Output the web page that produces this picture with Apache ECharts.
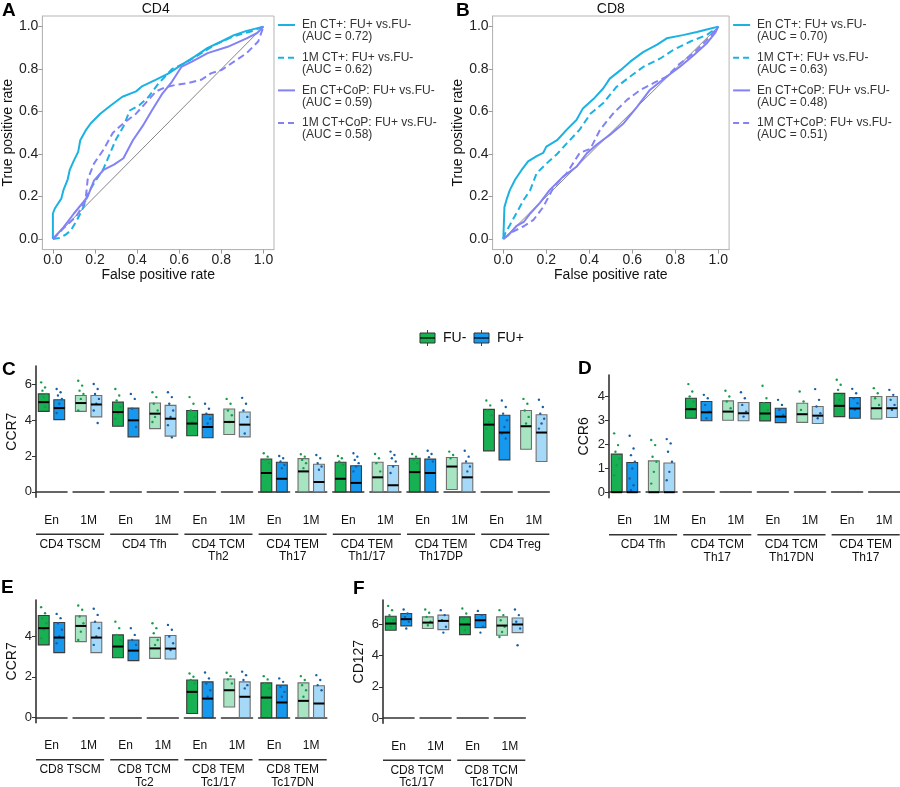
<!DOCTYPE html>
<html>
<head>
<meta charset="utf-8">
<script src="https://cdn.jsdelivr.net/npm/echarts@6/dist/echarts.min.js"></script>
<style>
html,body{margin:0;padding:0;background:#fff;}
#chart{width:900px;height:787px;}
</style>
</head>
<body>
<div id="chart"></div>
<script>
// ---- ROC curves, points are [false positive rate, true positive rate] ----
var rocA_enCT = [[0,0],[0,0.12],[0.01,0.145],[0.02,0.16],[0.04,0.19],[0.05,0.23],[0.07,0.28],[0.08,0.325],[0.1,0.37],[0.12,0.41],[0.13,0.465],[0.155,0.51],[0.18,0.545],[0.225,0.59],[0.27,0.625],[0.33,0.67],[0.395,0.695],[0.425,0.72],[0.49,0.75],[0.55,0.78],[0.61,0.82],[0.675,0.86],[0.735,0.9],[0.8,0.93],[0.86,0.96],[0.92,0.98],[1,1]];
var rocA_1mCT = [[0,0],[0.03,0.005],[0.06,0.02],[0.085,0.04],[0.115,0.09],[0.145,0.15],[0.17,0.22],[0.2,0.27],[0.24,0.33],[0.27,0.4],[0.3,0.47],[0.335,0.53],[0.365,0.605],[0.41,0.63],[0.455,0.67],[0.5,0.73],[0.565,0.8],[0.63,0.83],[0.705,0.875],[0.77,0.915],[0.86,0.955],[0.94,0.977],[1,1]];
var rocA_enCoP = [[0,0],[0.05,0.055],[0.1,0.12],[0.145,0.175],[0.165,0.2],[0.195,0.275],[0.24,0.325],[0.29,0.35],[0.335,0.38],[0.38,0.465],[0.425,0.53],[0.47,0.605],[0.52,0.685],[0.565,0.74],[0.61,0.81],[0.66,0.835],[0.735,0.875],[0.83,0.905],[0.92,0.945],[0.97,0.97],[1,1]];
var rocA_1mCoP = [[0,0],[0.05,0.05],[0.11,0.105],[0.155,0.18],[0.165,0.28],[0.195,0.355],[0.24,0.42],[0.285,0.5],[0.335,0.545],[0.395,0.59],[0.44,0.64],[0.49,0.695],[0.535,0.715],[0.58,0.725],[0.645,0.735],[0.705,0.75],[0.75,0.78],[0.8,0.795],[0.86,0.835],[0.92,0.875],[0.975,0.93],[1,1]];

var rocB_enCT = [[0,0],[0.005,0.15],[0.015,0.185],[0.03,0.23],[0.055,0.28],[0.085,0.325],[0.115,0.365],[0.155,0.39],[0.185,0.405],[0.2,0.435],[0.25,0.465],[0.295,0.515],[0.34,0.56],[0.37,0.615],[0.42,0.66],[0.465,0.71],[0.495,0.755],[0.545,0.795],[0.59,0.835],[0.65,0.88],[0.715,0.915],[0.76,0.945],[0.835,0.96],[0.9,0.975],[0.96,0.99],[1,1]];
var rocB_1mCT = [[0,0],[0.01,0.03],[0.03,0.065],[0.06,0.12],[0.095,0.185],[0.125,0.23],[0.155,0.31],[0.2,0.355],[0.25,0.4],[0.295,0.45],[0.355,0.515],[0.405,0.59],[0.465,0.64],[0.525,0.715],[0.59,0.765],[0.65,0.81],[0.73,0.85],[0.79,0.89],[0.87,0.93],[0.945,0.96],[1,1]];
var rocB_enCoP = [[0,0],[0.03,0.025],[0.06,0.06],[0.095,0.08],[0.125,0.12],[0.17,0.17],[0.215,0.23],[0.28,0.295],[0.34,0.34],[0.39,0.405],[0.435,0.445],[0.495,0.49],[0.56,0.545],[0.62,0.62],[0.68,0.7],[0.76,0.765],[0.82,0.81],[0.885,0.865],[0.945,0.92],[0.985,0.97],[1,1]];
var rocB_1mCoP = [[0,0],[0.045,0.035],[0.095,0.06],[0.14,0.09],[0.185,0.15],[0.235,0.245],[0.295,0.31],[0.355,0.405],[0.405,0.425],[0.45,0.515],[0.51,0.59],[0.575,0.655],[0.635,0.7],[0.7,0.735],[0.76,0.765],[0.82,0.825],[0.885,0.875],[0.945,0.935],[1,1]];

var rocNamesA = ['En CT+: FU+ vs.FU-\n(AUC = 0.72)', '1M CT+: FU+ vs.FU-\n(AUC = 0.62)', 'En CT+CoP: FU+ vs.FU-\n(AUC = 0.59)', '1M CT+CoP: FU+ vs.FU-\n(AUC = 0.58)'];
var rocNamesB = ['En CT+: FU+ vs.FU-\n(AUC = 0.70)', '1M CT+: FU+ vs.FU-\n(AUC = 0.63)', 'En CT+CoP: FU+ vs.FU-\n(AUC = 0.48)', '1M CT+CoP: FU+ vs.FU-\n(AUC = 0.51)'];
var rocTicks = [0, 0.2, 0.4, 0.6, 0.8, 1.0];

// ---- box panels: one entry per facet (group x time), [FU-, FU+], each [low, median, high] ----
var times = ['En', '1M'];
var groupsC = ['CD4 TSCM', 'CD4 Tfh', 'CD4 TCM\nTh2', 'CD4 TEM\nTh17', 'CD4 TEM\nTh1/17', 'CD4 TEM\nTh17DP', 'CD4 Treg'];
var boxesC = [
  [[4.48,4.99,5.45],[4.02,4.66,5.12]], [[4.48,4.94,5.36],[4.17,4.86,5.36]],
  [[3.65,4.44,4.99],[3.06,3.98,4.66]], [[3.52,4.35,4.94],[3.1,4.07,4.81]],
  [[3.12,3.8,4.53],[3.01,3.61,4.31]], [[3.19,3.89,4.61],[3.06,3.74,4.44]],
  [[0,1.05,1.83],[0,0.73,1.65]], [[0,1.14,1.85],[0,0.55,1.54]],
  [[0,0.73,1.65],[0,0.5,1.45]], [[0,0.81,1.65],[0,0.37,1.47]],
  [[0,1.1,1.87],[0,1.05,1.82]], [[0.13,1.41,1.91],[0,0.81,1.6]],
  [[2.28,3.74,4.59],[1.78,3.3,4.26]], [[2.37,3.65,4.53],[1.69,3.3,4.29]]
];
var dotsC = [
  [[6.09,5.81,5.63,5.45,5.27,4.99,4.72],[5.72,5.54,5.36,5.17,4.9,4.39]],
  [[6.18,5.91,5.63,5.45,5.17,4.53],[6.0,5.72,5.45,5.17,4.9,4.53,3.83]],
  [[5.72,5.36,5.08,4.72,4.35,4.07],[5.45,5.17,4.62,3.61]],
  [[5.54,5.27,4.9,4.53,4.17,3.89],[5.54,5.27,4.9,4.53,4.17,3.71,3.03]],
  [[5.27,4.9,4.53,4.17,3.89],[4.9,4.62,4.35,4.07,3.8]],
  [[5.17,4.9,4.53,4.26,3.89],[5.23,4.9,4.53,4.17,3.25]],
  [[2.15,1.96,1.78,1.6],[2.0,1.87,1.69,1.5,1.32]],
  [[2.09,1.96,1.78,1.6,1.32],[2.05,1.87,1.6,1.41,1.23]],
  [[2.0,1.87,1.69,1.5],[2.15,1.96,1.78,1.6,1.41,1.14]],
  [[2.11,1.87,1.6,1.14],[2.24,2.05,1.87,1.69,1.41,1.05]],
  [[2.11,1.96,1.78,1.6],[2.29,2.11,1.93,1.69]],
  [[2.24,2.05,1.87],[2.29,1.96,1.69,1.41,1.14]],
  [[5.08,4.81,4.53,4.26,3.89,3.52],[5.08,4.72,4.35,3.98,3.61,3.25,2.97]],
  [[5.17,4.9,4.53,4.17,3.8],[5.12,4.72,4.35,4.07,3.8,3.52]]
];

var groupsD = ['CD4 Tfh', 'CD4 TCM\nTh17', 'CD4 TCM\nTh17DN', 'CD4 TEM\nTh17'];
var boxesD = [
  [[0,0,1.59],[0,0,1.24]], [[0,0,1.31],[0,0,1.22]],
  [[3.09,3.47,3.93],[2.99,3.34,3.79]], [[3.01,3.37,3.82],[2.99,3.3,3.75]],
  [[2.98,3.29,3.75],[2.91,3.16,3.51]], [[2.92,3.26,3.72],[2.87,3.2,3.58]],
  [[3.16,3.61,4.13],[3.09,3.5,3.96]], [[3.06,3.51,4.0],[3.12,3.51,4.0]]
];
var dotsD = [
  [[2.46,1.97,1.69,1.41,1.13,0.71],[2.36,1.83,1.55,1.27,0.99,0.57,0.29,0.08]],
  [[2.18,1.97,1.48,1.27,0.85,0.36],[2.22,2.04,1.69,1.27,0.85,0.5]],
  [[4.52,4.21,4.0,3.79,3.51],[4.07,3.93,3.65,3.37,3.09]],
  [[4.24,4.0,3.79,3.51],[4.18,3.93,3.65,3.37,3.16]],
  [[4.45,3.93,3.72,3.44],[3.86,3.65,3.44,3.23]],
  [[4.21,3.79,3.44],[4.31,3.86,3.58,3.3,3.09]],
  [[4.7,4.49,4.28,4.07,3.86,3.65],[4.32,4.14,3.93,3.72,3.44]],
  [[4.35,4.14,3.93,3.65],[4.28,4.07,3.86,3.65,3.44]]
];

var groupsE = ['CD8 TSCM', 'CD8 TCM\nTc2', 'CD8 TEM\nTc1/17', 'CD8 TEM\nTc17DN'];
var boxesE = [
  [[3.56,4.38,5.0],[3.18,3.92,4.66]], [[3.72,4.49,4.98],[3.18,3.92,4.67]],
  [[2.93,3.48,4.05],[2.79,3.28,3.8]], [[2.9,3.39,3.93],[2.87,3.38,4.02]],
  [[0.2,1.26,1.84],[0,0.93,1.75]], [[0.52,1.34,1.89],[0,1.02,1.75]],
  [[0,0.98,1.7],[0,0.74,1.59]], [[0,0.82,1.7],[0,0.69,1.56]]
];
var dotsE = [
  [[5.41,5.11,4.87,4.62,4.3,3.89],[5.08,4.87,4.62,4.3,3.97,3.64]],
  [[5.49,5.28,4.95,4.62,4.21,3.8],[5.33,5.03,4.7,4.38,3.97,3.56]],
  [[4.7,4.38,4.05,3.8],[4.38,4.05,3.8,3.56]],
  [[4.62,4.38,4.13,3.8,3.56],[4.54,4.3,3.97,3.64,3.31]],
  [[2.16,2.0,1.84,1.67],[2.21,1.92,1.67,1.34,1.02]],
  [[2.2,2.03,1.87,1.67],[2.25,2.08,1.84,1.59,1.43]],
  [[2.03,1.87,1.67,1.43],[1.92,1.75,1.51,1.26,1.02]],
  [[2.03,1.84,1.59,1.34,1.02],[2.08,1.84,1.59,1.34]]
];

var groupsF = ['CD8 TCM\nTc1/17', 'CD8 TCM\nTc17DN'];
var boxesF = [
  [[5.63,6.06,6.53],[5.91,6.34,6.7]], [[5.74,6.12,6.49],[5.67,6.23,6.6]],
  [[5.35,6.0,6.49],[5.8,6.27,6.64]], [[5.31,5.93,6.49],[5.48,6.0,6.42]]
];
var dotsF = [
  [[7.19,6.92,6.6,6.27,5.85],[6.96,6.7,6.49,6.17,5.74]],
  [[6.96,6.75,6.49,6.17,5.95],[6.92,6.6,6.27,5.85,5.48]],
  [[7.02,6.7,6.38,6.06,5.63],[6.87,6.6,6.27,5.85,5.48]],
  [[6.92,6.6,6.27,5.85,5.52,5.2],[6.96,6.6,6.17,5.74,4.67]]
];

// ---- styles ----
var FONT = '"Liberation Sans", Arial, sans-serif';
var CYAN = '#1bb2e3', PURPLE = '#8282f6';
var FILL_EN = ['#17b052', '#1598ee'];
var FILL_1M = ['#a6e4c2', '#a5d9f7'];
var DOT = ['#1a9b4b', '#1a5fa6'];
var PITCH = 37.1, FW = 31;

const chart = echarts.init(document.getElementById('chart'));
var grids = [], xAxes = [], yAxes = [], series = [], graphics = [];

function addText(x, y, text, size, opts) {
  opts = opts || {};
  graphics.push({
    type: 'text', x: x, y: y, silent: true,
    style: {
      text: text, fill: opts.color || '#111',
      font: (opts.bold ? 'bold ' : '') + size + 'px ' + FONT,
      textAlign: opts.align || 'left', textVerticalAlign: opts.valign || 'top',
      align: opts.align || 'left', verticalAlign: opts.valign || 'top',
      lineHeight: opts.lineHeight || size
    }
  });
}
function addLine(x1, y1, x2, y2, color, width, dash) {
  graphics.push({type: 'line', silent: true, shape: {x1: x1, y1: y1, x2: x2, y2: y2},
    style: {stroke: color, lineWidth: width, lineDash: dash || null}});
}

// ---- ROC panels ----
function addRoc(left, title, names, curves) {
  var g = grids.length;
  var top = 16, w = 236.5, h = 233.6;
  grids.push({left: left, top: top, width: w, height: h, show: true, borderColor: '#b5b5b5', borderWidth: 1});
  xAxes.push({
    gridIndex: g, type: 'value', min: -0.05, max: 1.05,
    axisLine: {show: true, onZero: false, lineStyle: {color: '#b5b5b5'}},
    axisTick: {customValues: rocTicks, length: 4, lineStyle: {color: '#999'}},
    axisLabel: {customValues: rocTicks, formatter: function (v) { return v.toFixed(1); }, fontSize: 14, color: '#222', margin: 4},
    splitLine: {show: false},
    name: 'False positive rate', nameLocation: 'middle', nameGap: 19,
    nameTextStyle: {fontSize: 14, color: '#111'}
  });
  yAxes.push({
    gridIndex: g, type: 'value', min: -0.05, max: 1.05,
    axisLine: {show: true, onZero: false, lineStyle: {color: '#b5b5b5'}},
    axisTick: {customValues: rocTicks, length: 4, lineStyle: {color: '#999'}},
    axisLabel: {customValues: rocTicks, formatter: function (v) { return v.toFixed(1); }, fontSize: 14, color: '#222', margin: 4},
    splitLine: {show: false},
    name: 'True positive rate', nameLocation: 'middle', nameGap: 26,
    nameTextStyle: {fontSize: 14, color: '#111'}
  });
  series.push({type: 'line', xAxisIndex: g, yAxisIndex: g, data: [[0, 0], [1, 1]], symbol: 'none',
    silent: true, lineStyle: {color: '#333', width: 0.6}});
  var styles = [[CYAN, 'solid'], [CYAN, [7, 4]], [PURPLE, 'solid'], [PURPLE, [7, 4]]];
  curves.forEach(function (c, i) {
    series.push({type: 'line', name: names[i], xAxisIndex: g, yAxisIndex: g, data: c, symbol: 'none',
      lineStyle: {color: styles[i][0], width: 2, type: styles[i][1]}});
    var ly = 25 + i * 32.7;
    addLine(left + w + 4, ly, left + w + 21, ly, styles[i][0], 2, styles[i][1] === 'solid' ? null : [6, 4]);
    addText(left + w + 28, ly - 6, names[i], 12, {color: '#333', lineHeight: 12});
  });
  addText(left + w / 2, 2, title, 14, {align: 'center'});
}
addRoc(37.5, 'CD4', rocNamesA, [rocA_enCT, rocA_1mCT, rocA_enCoP, rocA_1mCoP]);
addRoc(492.6, 'CD8', rocNamesB, [rocB_enCT, rocB_1mCT, rocB_enCoP, rocB_1mCoP]);

// ---- box panels ----
function boxRenderer(boxes, dots, light) {
  return function (params, api) {
    var i = params.dataIndex;
    var b = boxes[i];
    var pMed = api.coord([i, b[1]]);
    var yLow = api.coord([i, b[0]])[1], yHigh = api.coord([i, b[2]])[1];
    var bw = api.size([1, 0])[0] * 0.7;
    var cx = pMed[0];
    var kids = [{
      type: 'rect', shape: {x: cx - bw / 2, y: yHigh, width: bw, height: yLow - yHigh},
      style: {fill: light ? FILL_1M[i] : FILL_EN[i], stroke: light ? '#6f6f6f' : '#3c3c3c', lineWidth: 1.1}
    }];
    dots[i].forEach(function (v, k) {
      var p = api.coord([i, v]);
      var dx = (((k * 3) % 5) - 2) * bw * 0.12;
      kids.push({type: 'circle', shape: {cx: p[0] + dx, cy: p[1], r: 1.2}, style: {fill: DOT[i]}});
    });
    kids.push({type: 'line', shape: {x1: cx - bw / 2, y1: pMed[1], x2: cx + bw / 2, y2: pMed[1]},
      style: {stroke: '#000', lineWidth: 2}});
    return {type: 'group', children: kids};
  };
}

function addBoxPanel(p) {
  for (var f = 0; f < p.boxes.length; f++) {
    var g = grids.length;
    grids.push({left: p.left + f * PITCH, top: p.top, width: FW, height: p.bottom - p.top});
    xAxes.push({
      gridIndex: g, type: 'category', data: ['FU-', 'FU+'],
      axisLine: {lineStyle: {color: '#333', width: 1.6}},
      axisTick: {alignWithLabel: true, length: 4, lineStyle: {color: '#333'}},
      axisLabel: {show: false},
      name: times[f % 2], nameLocation: 'middle', nameGap: 17,
      nameTextStyle: {fontSize: 12, color: '#111'}
    });
    yAxes.push({
      gridIndex: g, type: 'value', min: p.min, max: p.max, show: f === 0,
      axisLine: {show: true, lineStyle: {color: '#333', width: 1.6}},
      axisTick: {show: true, customValues: p.ticks, length: 4, lineStyle: {color: '#333'}},
      axisLabel: {customValues: p.ticks, fontSize: 13, color: '#222', margin: 4},
      splitLine: {show: false},
      name: p.yName, nameLocation: 'middle', nameGap: p.nameGap,
      nameTextStyle: {fontSize: 14, color: '#111'}
    });
    series.push({
      type: 'custom', xAxisIndex: g, yAxisIndex: g, silent: true, clip: false,
      renderItem: boxRenderer(p.boxes[f], p.dots[f], f % 2 === 1),
      encode: {x: 0, y: [1, 2, 3]},
      data: p.boxes[f].map(function (b, i) { return [i, b[0], b[1], b[2]]; })
    });
  }
  p.groups.forEach(function (name, gi) {
    var xs = p.left + gi * 2 * PITCH, xe = xs + PITCH + FW;
    addLine(xs, p.bottom + 37, xe, p.bottom + 37, '#333', 1.4);
    addText((xs + xe) / 2, p.bottom + 41, name, 12, {align: 'center', lineHeight: 12.5});
  });
  addText(p.letterX, p.letterY, p.letter, 19, {bold: true, color: '#000'});
}

addBoxPanel({letter: 'C', letterX: 2, letterY: 360, left: 36, top: 366, bottom: 497.3, min: -0.3, max: 7.0,
  ticks: [0, 2, 4, 6], yName: 'CCR7', nameGap: 17, groups: groupsC, boxes: boxesC, dots: dotsC});
addBoxPanel({letter: 'D', letterX: 578, letterY: 359, left: 609, top: 375, bottom: 497.7, min: -0.23, max: 4.9,
  ticks: [0, 1, 2, 3, 4], yName: 'CCR6', nameGap: 18, groups: groupsD, boxes: boxesD, dots: dotsD});
addBoxPanel({letter: 'E', letterX: 1, letterY: 578, left: 36, top: 600, bottom: 722.7, min: -0.25, max: 5.76,
  ticks: [0, 2, 4], yName: 'CCR7', nameGap: 17, groups: groupsE, boxes: boxesE, dots: dotsE});
addBoxPanel({letter: 'F', letterX: 353, letterY: 579, left: 383, top: 600, bottom: 723.3, min: -0.34, max: 7.57,
  ticks: [0, 2, 4, 6], yName: 'CD127', nameGap: 17, groups: groupsF, boxes: boxesF, dots: dotsF});

addText(2, 1, 'A', 19, {bold: true, color: '#000'});
addText(456, 1, 'B', 19, {bold: true, color: '#000'});

// ---- FU- / FU+ key ----
['FU-', 'FU+'].forEach(function (lab, i) {
  var x0 = 420 + i * 54;
  addLine(x0 + 7.5, 330, x0 + 7.5, 346, '#444', 1);
  graphics.push({type: 'rect', silent: true, shape: {x: x0, y: 333, width: 15, height: 10},
    style: {fill: FILL_EN[i], stroke: '#333', lineWidth: 1}});
  addLine(x0, 338, x0 + 15, 338, '#000', 1.2);
  addText(x0 + 23, 338, lab, 14, {valign: 'middle'});
});

chart.setOption({
  animation: false,
  textStyle: {fontFamily: FONT},
  grid: grids,
  xAxis: xAxes,
  yAxis: yAxes,
  series: series,
  graphic: {elements: graphics}
});
</script>
</body>
</html>
